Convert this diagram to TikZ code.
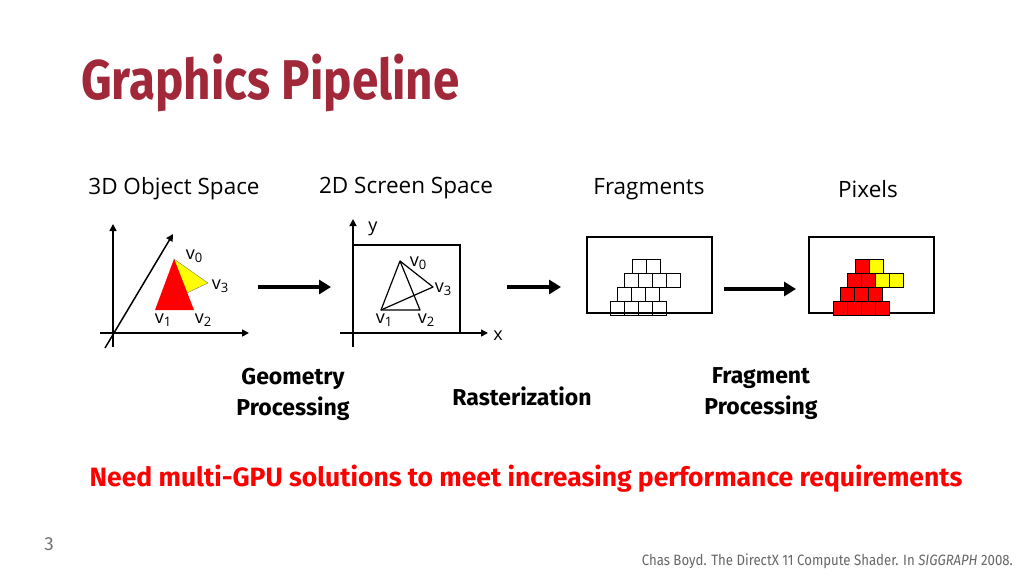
\documentclass[tikz,border=0pt]{standalone}
\usepackage{fontspec}
\setmainfont{Fira Sans}
\newfontfamily\bodyf{Open Sans}
\usetikzlibrary{arrows.meta}
\definecolor{ttl}{RGB}{160,40,56}
\definecolor{yel}{RGB}{255,255,0}
\newcommand{\vv}[1]{v\raisebox{-3pt}{\fontsize{13}{14}\selectfont #1}}
\tikzset{ax/.style={line width=1.5pt,-{Triangle[length=7pt,width=7pt]}},
 big/.style={line width=3.5pt,-{Triangle[length=12pt,width=14pt]}},
 lbl/.style={font=\bodyf\fontsize{22.5}{24}\selectfont,inner sep=0},
 vl/.style={font=\bodyf\fontsize{18}{20}\selectfont,inner sep=0},
 captxt/.style={font=\bfseries\fontsize{23}{31}\selectfont,align=center,inner sep=0},
 box/.style={draw,line width=1.5pt},
 cell/.style={draw,line width=0.6pt}}
\begin{document}
\begin{tikzpicture}[x=1pt,y=-1pt]
\useasboundingbox (0,0) rectangle (1024,576);
\node[anchor=west,text=ttl,font=\bfseries\fontsize{56}{60}\selectfont,xscale=0.85,inner sep=0] (title) at (81,83) {Graphics Pipeline};
\node[lbl] (h1) at (174,189) {3D Object Space};
\node[lbl] (h2) at (406,188) {2D Screen Space};
\node[lbl] (h3) at (649,189) {Fragments};
\node[lbl] (h4) at (868,189) {Pixels};
% 3D axes
\coordinate (o1) at (113,347); \coordinate (o1t) at (113,224);
\draw[ax] (o1) -- (o1t);
\coordinate (xa) at (100,333); \coordinate (xb) at (249,333);
\draw[ax] (xa) -- (xb);
\coordinate (da) at (105,348); \coordinate (db) at (173,234);
\draw[ax] (da) -- (db);
\coordinate (a0) at (174,259); \coordinate (a1) at (155,310); \coordinate (a2) at (194,310);
\coordinate (a3) at (208,283); \coordinate (am) at (187,293);
\fill[yel,draw=black!60,line width=0.3pt] (a0) -- (a3) -- (am) -- cycle;
\fill[red] (a0) -- (a1) -- (a2) -- cycle;
\node[vl] (l0) at (194,256) {\vv{0}};
\node[vl] (l3) at (220,286) {\vv{3}};
\node[vl] (l1) at (163,320) {\vv{1}};
\node[vl] (l2) at (203,320) {\vv{2}};
% 2D
\draw[line width=1.5pt] (353,245) -- (460,245) -- (460,333);
\draw[ax] (353,347) -- (353,219);
\draw[ax] (340,333) -- (488,333);
\node[vl] (yl) at (373,229) {y};
\node[vl] (xl) at (498,336) {x};
\coordinate (b0) at (400,261); \coordinate (b1) at (381,310); \coordinate (b2) at (420,310); \coordinate (b3) at (433,287);
\draw[line width=1.2pt,line join=round] (b0) -- (b1) -- (b2) -- cycle;
\draw[line width=1.2pt,line join=round] (b0) -- (b3) -- (b1);
\node[vl] (m0) at (418,263) {\vv{0}};
\node[vl] (m3) at (443,289) {\vv{3}};
\node[vl] (m1) at (384,320) {\vv{1}};
\node[vl] (m2) at (426,320) {\vv{2}};
% arrows
\coordinate (p1) at (258,287); \coordinate (p2) at (331,287);
\draw[big] (p1) -- (p2);
\coordinate (p3) at (507,287); \coordinate (p4) at (561,287);
\draw[big] (p3) -- (p4);
\coordinate (p5) at (724,289); \coordinate (p6) at (796,289);
\draw[big] (p5) -- (p6);
% fragments
\draw[box] (587,237) rectangle (712,313);
\foreach \x/\y in {632/259,646/259,624/273,638/273,652/273,666/273,617/287,631/287,645/287,610/301,624/301,638/301,652/301}
  \draw[cell] (\x,\y) rectangle ++(14,14);
% pixels
\draw[box] (809,237) rectangle (934,313);
\foreach \x/\y/\c in {855/259/red,869/259/yel,847/273/red,861/273/red,875/273/yel,889/273/yel,840/287/red,854/287/red,868/287/red,833/301/red,847/301/red,861/301/red,875/301/red}
  \draw[cell,fill=\c] (\x,\y) rectangle ++(14,14);
% captions
\node[captxt] (c1) at (293,394) {Geometry\\Processing};
\node[captxt] (c2) at (522,396) {Rasterization};
\node[captxt] (c3) at (761,394) {Fragment\\Processing};
\node[font=\bfseries\fontsize{26.5}{28}\selectfont,text=red,inner sep=0] (need) at (526,479) {Need multi-GPU solutions to meet increasing performance requirements};
\node[font=\fontsize{19}{20}\selectfont,text=black!55,inner sep=0] (pg) at (49,544) {3};
\node[anchor=east,font=\fontsize{15}{17}\selectfont,text=black!60,xscale=0.88,inner sep=0] (ref) at (1013,561) {Chas Boyd. The DirectX 11 Compute Shader. In \textit{SIGGRAPH} 2008.};
\end{tikzpicture}
\end{document}
